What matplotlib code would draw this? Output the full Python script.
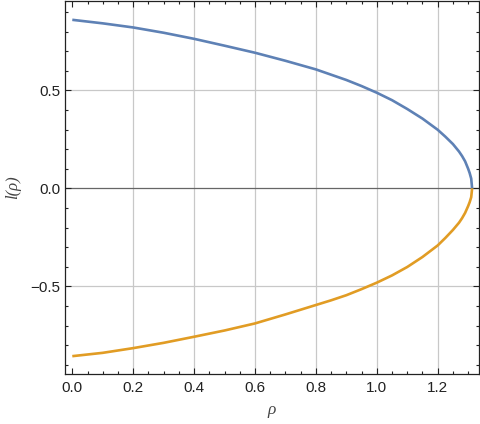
import matplotlib
matplotlib.use("Agg")
import matplotlib.pyplot as plt
from matplotlib.ticker import MultipleLocator, FixedLocator

# Data
rho_upper = [0.0, 0.1, 0.2, 0.3, 0.4, 0.5, 0.6, 0.7, 0.8, 0.85, 0.9, 0.95, 1.0, 1.05, 1.1,
             1.15, 1.2, 1.225, 1.25, 1.27, 1.28, 1.29, 1.30, 1.305, 1.31, 1.313]
l_upper = [0.860, 0.842, 0.821, 0.794, 0.763, 0.728, 0.692, 0.651, 0.607, 0.580, 0.553, 0.522,
           0.488, 0.450, 0.405, 0.356, 0.299, 0.264, 0.226, 0.188, 0.165, 0.138, 0.100, 0.078,
           0.050, 0.0]

rho_lower = [0.0, 0.1, 0.2, 0.3, 0.4, 0.5, 0.6, 0.7, 0.8, 0.85, 0.9, 0.95, 1.0, 1.05, 1.1,
             1.15, 1.2, 1.225, 1.25, 1.27, 1.28, 1.29, 1.30, 1.305, 1.31, 1.313]
l_lower = [-0.856, -0.839, -0.815, -0.788, -0.757, -0.725, -0.689, -0.643, -0.595, -0.571,
           -0.545, -0.514, -0.481, -0.444, -0.401, -0.350, -0.291, -0.253, -0.212, -0.175,
           -0.152, -0.125, -0.090, -0.070, -0.045, 0.0]

x_ticks = [0.0, 0.2, 0.4, 0.6, 0.8, 1.0, 1.2]
x_tick_labels = ["0.0", "0.2", "0.4", "0.6", "0.8", "1.0", "1.2"]
y_ticks = [-0.5, 0.0, 0.5]
y_tick_labels = ["\u22120.5", "0.0", "0.5"]
x_grid = [0.2, 0.4, 0.6, 0.8, 1.0, 1.2]
y_grid = [-0.5, 0.5]

plt.rcParams['font.family'] = ['Liberation Sans', 'DejaVu Sans']

fig = plt.figure(figsize=(4.8, 4.24), dpi=100)
ax = fig.add_axes([64.5/480, 1 - 374/424, (479 - 64.5)/480, (374 - 1)/424])

ax.set_xlim(-0.0256, 1.3356)
ax.set_ylim(-0.947, 0.956)

for xv in x_grid:
    ax.axvline(xv, color="#c8c8c8", lw=0.9, zorder=1)
for yv in y_grid:
    ax.axhline(yv, color="#c8c8c8", lw=0.9, zorder=1)
ax.axhline(0.0, color="#666666", lw=0.9, zorder=1)

ax.plot(rho_upper, l_upper, color="#5E81B5", lw=1.9, zorder=3, solid_capstyle="butt",
        solid_joinstyle="round")
ax.plot(rho_lower, l_lower, color="#E19C24", lw=1.9, zorder=3, solid_capstyle="butt",
        solid_joinstyle="round")

ax.xaxis.set_major_locator(FixedLocator(x_ticks))
ax.set_xticklabels(x_tick_labels)
ax.xaxis.set_minor_locator(MultipleLocator(0.05))
ax.yaxis.set_major_locator(FixedLocator(y_ticks))
ax.set_yticklabels(y_tick_labels)
ax.yaxis.set_minor_locator(MultipleLocator(0.1))

ax.tick_params(which="both", direction="in", top=True, right=True, colors="#222222",
               labelsize=11, width=0.8)
ax.tick_params(which="major", length=4.5)
ax.tick_params(which="minor", length=2.5)
ax.tick_params(axis="x", which="major", pad=5)
ax.tick_params(axis="y", which="major", pad=3)
for lab in ax.get_xticklabels() + ax.get_yticklabels():
    lab.set_color("#222222")

for sp in ax.spines.values():
    sp.set_linewidth(0.9)
    sp.set_color("#222222")

ax.set_xlabel("\u03c1", family=["Liberation Serif", "DejaVu Serif"], style="italic",
              fontsize=12.5, color="#444444")
ax.xaxis.set_label_coords(0.5, -0.075)
ax.set_ylabel("l(\u03c1)", family=["Liberation Serif", "DejaVu Serif"], style="italic",
              fontsize=12, color="#444444")
ax.yaxis.set_label_coords(-0.105, 0.5)

fig.savefig("out.png", dpi=100)
